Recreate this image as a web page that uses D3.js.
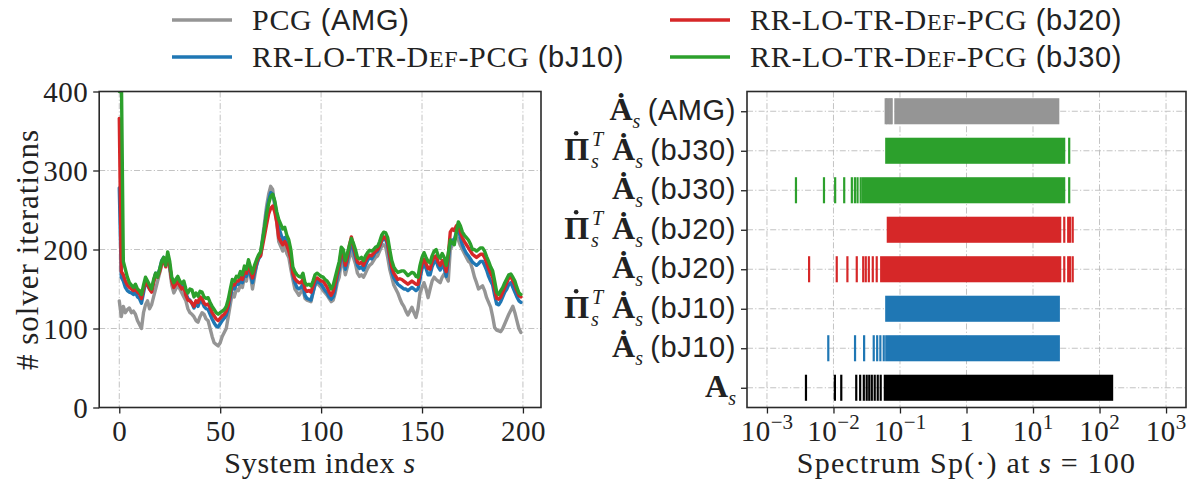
<!DOCTYPE html>
<html><head><meta charset="utf-8">
<script src="https://cdn.jsdelivr.net/npm/d3@7"></script>
<style>body{margin:0;background:#fff} svg{display:block}</style>
</head><body><svg id="c" width="1199" height="490"></svg>
<script>
// ---------------- data ----------------
const xTicksLeft = [0, 50, 100, 150, 200];
const yTicksLeft = [0, 100, 200, 300, 400];

const itersAMG = [135,115,128,120,124,126,120,122,118,110,105,100,120,130,135,125,130,140,150,160,
170,180,185,182,190,175,155,145,150,155,150,145,140,135,125,120,118,115,110,108,
115,120,118,112,110,100,90,82,80,78,82,90,95,100,115,130,145,140,150,148,
155,152,165,160,178,168,150,165,180,190,195,215,235,255,270,280,276,255,235,210,
204,198,205,195,190,175,162,150,146,142,146,150,138,136,135,134,145,155,158,155,
152,148,145,142,138,134,136,145,158,165,185,182,168,178,190,198,190,182,170,166,
168,165,170,176,180,182,186,190,192,198,204,206,203,190,175,165,155,150,145,138,
132,128,122,117,122,127,120,114,125,145,152,158,150,139,150,160,165,162,160,158,
165,169,165,160,200,205,212,217,212,205,200,195,190,185,183,175,165,158,150,152,
154,148,139,133,127,115,101,98,97,96,100,106,112,118,123,128,120,110,100,95];

const itersBJ10 = [278,165,160,152,148,146,145,143,146,140,138,132,145,158,155,150,147,160,170,168,
175,186,190,180,192,178,162,155,160,164,158,153,154,144,138,136,132,126,132,128,
135,134,128,125,124,118,112,107,103,102,106,110,113,117,126,140,152,150,156,156,
160,158,170,166,178,168,158,170,180,188,192,210,228,248,262,272,270,260,244,228,
220,212,215,208,200,190,168,158,152,150,152,156,142,138,137,136,146,156,160,158,
156,152,148,145,140,137,140,150,165,175,195,190,175,186,198,208,200,190,180,176,
178,174,180,186,190,188,192,196,198,204,210,214,212,205,188,172,164,160,156,154,
152,150,150,148,150,152,150,148,150,162,176,182,176,168,168,178,184,186,178,174,
180,176,166,186,210,212,212,222,226,215,206,200,195,192,188,184,182,180,182,185,
185,180,174,166,160,155,142,131,130,134,140,146,150,156,158,152,146,140,135,133];

const itersBJ20 = [366,172,168,160,155,152,150,148,150,146,144,138,150,160,156,150,146,158,168,165,
172,182,188,178,193,180,160,152,156,160,154,150,152,142,136,135,132,128,135,133,
140,138,132,130,131,126,120,116,112,110,113,116,118,122,130,145,156,155,160,160,
165,162,174,170,182,173,164,175,184,190,192,205,218,232,245,252,255,248,235,215,
210,206,210,205,198,188,170,163,160,158,158,162,150,147,148,146,154,162,164,162,
160,160,156,152,146,142,147,158,170,180,198,195,180,190,205,216,205,195,184,182,
184,180,186,190,193,192,195,198,200,205,212,216,215,208,192,178,170,166,162,163,
162,160,158,156,158,160,158,156,156,170,182,188,182,176,175,185,190,192,184,180,
186,182,172,192,222,226,224,230,232,222,215,210,206,202,198,194,192,190,192,194,
194,190,183,176,170,165,150,138,137,140,146,152,158,164,166,160,155,148,142,140];

const itersBJ30 = [400,430,185,175,165,158,155,152,156,150,148,143,155,165,160,155,150,162,170,165,
175,185,190,180,197,185,165,158,162,166,160,157,160,150,145,150,149,140,145,141,
147,146,140,138,139,133,128,124,120,118,120,122,124,128,137,150,162,160,166,165,
172,168,179,175,187,178,170,180,187,193,197,212,228,245,258,267,270,262,248,238,
232,226,228,218,212,200,178,172,168,166,165,170,158,155,156,154,160,168,170,168,
166,165,162,160,156,150,155,165,175,185,203,200,186,195,205,214,208,200,190,188,
190,186,192,196,199,198,200,203,204,210,218,222,221,215,200,186,178,174,171,172,
173,173,170,167,169,171,170,166,165,180,190,196,190,185,183,192,198,200,192,189,
195,190,180,195,212,208,206,222,235,230,222,218,215,212,207,200,200,198,200,202,
202,198,191,185,178,173,160,146,143,148,152,158,163,168,169,165,160,152,145,143];

const seriesNames = ["AMG", "bJ10", "bJ20", "bJ30"];
const seriesColors = ["#959595", "#1f77b4", "#d62728", "#2ca02c"];

// spectrum panel (top to bottom)
const specRows = ["A_AMG", "PiA_bJ30", "A_bJ30", "PiA_bJ20", "A_bJ20", "PiA_bJ10", "A_bJ10", "A"];
const specTags = ["(AMG)", "(bJ30)", "(bJ30)", "(bJ20)", "(bJ20)", "(bJ10)", "(bJ10)", ""];
const specHasPi = [false, true, false, true, false, true, false, false];
const specHasDot = [true, true, true, true, true, true, true, false];
const specColors = ["#959595", "#2ca02c", "#2ca02c", "#d62728", "#d62728", "#1f77b4", "#1f77b4", "#000000"];
const specBandLo = [0.085, 0.062, 0.0276, 0.0654, 0.052, 0.062, 0.062, 0.059];
const specBandHi = [24, 29.5, 29.5, 25.7, 25.7, 24.5, 24.5, 155];
const specIsolated = [
  [0.061, 0.064, 0.068, 0.072, 0.075],
  [35],
  [0.00273, 0.0072, 0.0106, 0.0145, 0.0189, 0.021, 0.023, 0.0257, 35],
  [29.5, 33.8, 36, 39.5],
  [0.0043, 0.0112, 0.0162, 0.0224, 0.028, 0.0306, 0.034, 0.039, 0.0447, 29.5, 33.8, 36, 39.5],
  [],
  [0.00836, 0.0211, 0.0289, 0.0403, 0.0454, 0.0507, 0.057],
  [0.00386, 0.0105, 0.0131, 0.022, 0.0252, 0.0286, 0.0316, 0.0345, 0.0377, 0.0417, 0.0463, 0.0513]
];
const specTicks = [1e-3, 1e-2, 1e-1, 1, 1e1, 1e2, 1e3];
const specTickExp = ["\u22123", "\u22122", "\u22121", "", "1", "2", "3"];

// ---------------- drawing ----------------
const SERIF = "'Liberation Serif','Times New Roman',serif";
const SANS = "'Liberation Sans',Arial,sans-serif";
const svg = d3.select("#c");
const FS = 29;      // tick label size
const TS = 30;      // text size
const LS = 0.7;     // letter spacing for words
const SS = 29;      // sans tag size

const L = {x0: 99.2, x1: 541, y0: 91.5, y1: 407.5};
const R = {x0: 747, x1: 1186, y0: 91.5, y1: 407.5};

const xL = d3.scaleLinear().domain([-9.95, 208.95]).range([L.x0, L.x1]);
const yL = d3.scaleLinear().domain([0, 400]).range([L.y1, L.y0]);
const xR = d3.scaleLog().domain([Math.pow(10, -3.3), Math.pow(10, 3.3)]).range([R.x0, R.x1]);
const yR = d3.scalePoint().domain(specRows).range([R.y0, R.y1]).padding(0.5);

const gridStyle = s => s.attr("stroke", "#bcbcbc").attr("stroke-width", 0.9)
  .attr("stroke-dasharray", "6,2.2,1.2,2.2").attr("fill", "none");

// ---- left panel ----
const gl = svg.append("g");
gl.append("g").selectAll("line").data(xTicksLeft).join("line")
  .attr("x1", d => xL(d)).attr("x2", d => xL(d)).attr("y1", L.y0).attr("y2", L.y1).call(gridStyle);
gl.append("g").selectAll("line").data(yTicksLeft).join("line")
  .attr("x1", L.x0).attr("x2", L.x1).attr("y1", d => yL(d)).attr("y2", d => yL(d)).call(gridStyle);

svg.append("clipPath").attr("id", "clipL").append("rect")
  .attr("x", L.x0).attr("y", L.y0).attr("width", L.x1 - L.x0).attr("height", L.y1 - L.y0);

const line = d3.line().x((d, i) => xL(i)).y(d => yL(d)).curve(d3.curveLinear);
const allSeries = [itersAMG, itersBJ10, itersBJ20, itersBJ30];
gl.append("g").attr("clip-path", "url(#clipL)").selectAll("path").data(allSeries).join("path")
  .attr("d", d => line(d)).attr("fill", "none")
  .attr("stroke", (d, i) => seriesColors[i]).attr("stroke-width", 3.4)
  .attr("stroke-linejoin", "round").attr("stroke-linecap", "round");

// axes left
const axBL = gl.append("g").attr("transform", `translate(0,${L.y1})`)
  .call(d3.axisBottom(xL).tickValues(xTicksLeft).tickSize(6).tickPadding(5));
const axLL = gl.append("g").attr("transform", `translate(${L.x0},0)`)
  .call(d3.axisLeft(yL).tickValues(yTicksLeft).tickSize(6).tickPadding(5));
[axBL, axLL].forEach(a => {
  a.select(".domain").remove();
  a.selectAll(".tick line").attr("stroke", "#222").attr("stroke-width", 1.3);
  a.selectAll(".tick text").attr("font-family", SERIF).attr("font-size", FS).attr("fill", "#222")
    .attr("letter-spacing", 0.5);
});
axBL.selectAll(".tick text").attr("dy", "0.76em");
axLL.selectAll(".tick text").attr("dy", "0.34em");
gl.append("rect").attr("x", L.x0).attr("y", L.y0).attr("width", L.x1 - L.x0).attr("height", L.y1 - L.y0)
  .attr("fill", "none").attr("stroke", "#2a2a2a").attr("stroke-width", 1.6);

const xlabL = gl.append("text").attr("x", (L.x0 + L.x1) / 2).attr("y", 473).attr("text-anchor", "middle")
  .attr("font-family", SERIF).attr("font-size", TS).attr("letter-spacing", LS).attr("fill", "#222");
xlabL.append("tspan").text("System index ");
xlabL.append("tspan").attr("font-style", "italic").text("s");

gl.append("text").attr("transform", `translate(38,${(L.y0 + L.y1) / 2}) rotate(-90)`)
  .attr("text-anchor", "middle").attr("font-family", SERIF).attr("font-size", TS + 1)
  .attr("letter-spacing", LS + 0.3).attr("fill", "#222")
  .text("# solver iterations");

// ---- right panel ----
const gr = svg.append("g");
gr.append("g").selectAll("line").data(specTicks).join("line")
  .attr("x1", d => xR(d)).attr("x2", d => xR(d)).attr("y1", R.y0).attr("y2", R.y1).call(gridStyle);
gr.append("g").selectAll("line").data(specRows).join("line")
  .attr("x1", R.x0).attr("x2", R.x1).attr("y1", d => yR(d)).attr("y2", d => yR(d)).call(gridStyle);

const barH = yR.step() * 0.66;
const rows = gr.append("g").selectAll("g").data(specRows).join("g");
rows.append("rect")
  .attr("x", (d, i) => xR(specBandLo[i]) - 1)
  .attr("width", (d, i) => xR(specBandHi[i]) - xR(specBandLo[i]) + 2)
  .attr("y", d => yR(d) - barH / 2).attr("height", barH)
  .attr("fill", (d, i) => specColors[i]);
rows.each(function (d, i) {
  d3.select(this).selectAll("line").data(specIsolated[i]).join("line")
    .attr("x1", v => xR(v)).attr("x2", v => xR(v))
    .attr("y1", yR(d) - barH / 2).attr("y2", yR(d) + barH / 2)
    .attr("stroke", specColors[i]).attr("stroke-width", 2.2);
});

const axBR = gr.append("g").attr("transform", `translate(0,${R.y1})`)
  .call(d3.axisBottom(xR).tickValues(specTicks).tickSize(6).tickFormat(""));
const axLR = gr.append("g").attr("transform", `translate(${R.x0},0)`)
  .call(d3.axisLeft(yR).tickSize(6).tickFormat(""));
[axBR, axLR].forEach(a => {
  a.select(".domain").remove();
  a.selectAll(".tick line").attr("stroke", "#222").attr("stroke-width", 1.3);
});
// x tick labels 10^k
specTicks.forEach((t, i) => {
  const tx = gr.append("text").attr("x", xR(t)).attr("y", 441).attr("text-anchor", "middle")
    .attr("font-family", SERIF).attr("font-size", FS).attr("fill", "#222");
  if (specTickExp[i] === "") { tx.text("1"); }
  else {
    tx.append("tspan").attr("letter-spacing", 0.5).text("10");
    tx.append("tspan").attr("font-size", 21).attr("dy", -12).text(specTickExp[i]);
  }
});
// y tick labels
specRows.forEach((r, i) => {
  const t = gr.append("text").attr("x", R.x0 - 11).attr("y", yR(r) + 9).attr("text-anchor", "end")
    .attr("font-family", SERIF).attr("font-size", FS).attr("fill", "#222");
  const big = 32;
  if (specHasPi[i]) {
    t.append("tspan").attr("font-weight", "bold").attr("font-size", big).text("\u03A0");
    t.append("tspan").attr("font-style", "italic").attr("font-size", 20).attr("dx", 2).attr("dy", 8).text("s");
    t.append("tspan").attr("font-style", "italic").attr("font-size", 20).attr("dx", -7).attr("dy", -22).text("T");
    t.append("tspan").attr("font-weight", "bold").attr("font-size", big).attr("dx", 9).attr("dy", 14)
      .text(specHasDot[i] ? "\u0226" : "A");
  } else {
    t.append("tspan").attr("font-weight", "bold").attr("font-size", big).text(specHasDot[i] ? "\u0226" : "A");
  }
  t.append("tspan").attr("font-style", "italic").attr("font-size", 20).attr("dy", 8).text("s");
  if (specTags[i]) {
    t.append("tspan").attr("dy", -8).text("\u00A0");
    t.append("tspan").attr("font-family", SANS).attr("font-size", SS).attr("letter-spacing", 0.6).text(specTags[i]);
  }
  if (specHasPi[i]) {
    // dot accent above the bold Pi, placed from the glyph's measured extent
    const ext = t.node().getExtentOfChar(0);
    gr.append("circle").attr("cx", ext.x + ext.width / 2 - 0.5).attr("cy", yR(r) + 9 - 26.5)
      .attr("r", 2.3).attr("fill", "#222");
  }
});
gr.append("rect").attr("x", R.x0).attr("y", R.y0).attr("width", R.x1 - R.x0).attr("height", R.y1 - R.y0)
  .attr("fill", "none").attr("stroke", "#2a2a2a").attr("stroke-width", 1.6);
const xlabR = gr.append("text").attr("x", (R.x0 + R.x1) / 2).attr("y", 473).attr("text-anchor", "middle")
  .attr("font-family", SERIF).attr("font-size", TS).attr("letter-spacing", LS + 0.5).attr("fill", "#222");
xlabR.append("tspan").text("Spectrum Sp(\u00B7) at ");
xlabR.append("tspan").attr("font-style", "italic").text("s");
xlabR.append("tspan").text(" = 100");

// ---- legend ----
const legendPos = [[172, 20], [172, 57], [670, 20], [670, 57]];
seriesNames.forEach((nm, i) => {
  const [lx, ly] = legendPos[i];
  svg.append("line").attr("x1", lx).attr("x2", lx + 60).attr("y1", ly).attr("y2", ly)
    .attr("stroke", seriesColors[i]).attr("stroke-width", 3.4);
  const t = svg.append("text").attr("x", lx + 80).attr("y", ly + 10)
    .attr("font-family", SERIF).attr("font-size", TS).attr("letter-spacing", LS).attr("fill", "#222");
  if (nm === "AMG") {
    t.append("tspan").text("PCG\u00A0");
  } else {
    t.append("tspan").text("RR-LO-TR-D");
    t.append("tspan").attr("font-size", 24).text("EF");
    t.append("tspan").text("-PCG\u00A0");
  }
  t.append("tspan").attr("font-family", SANS).attr("font-size", SS).text("(" + nm + ")");
});
</script></body></html>
